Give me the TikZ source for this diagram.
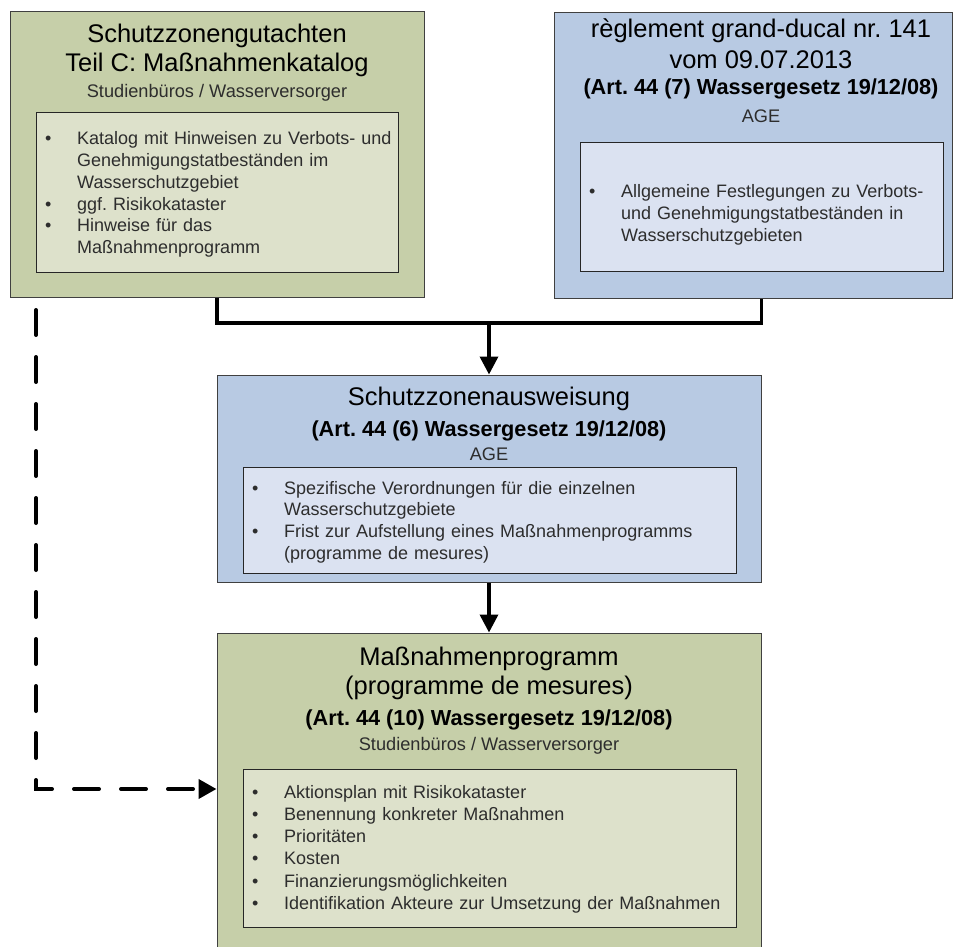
\documentclass[tikz,border=0pt]{standalone}
\usepackage{fontspec}
\setmainfont{Liberation Sans}
\usetikzlibrary{positioning, arrows.meta}
\definecolor{zonegruen}{RGB}{198,207,169}
\definecolor{zonegruenhell}{RGB}{221,225,203}
\definecolor{zoneblau}{RGB}{184,202,227}
\definecolor{zoneblauhell}{RGB}{219,226,241}
\definecolor{zonetext}{RGB}{45,45,45}

\newcommand{\erster}{\noindent\hangindent=32pt\hangafter=1\makebox[32pt][l]{\textbullet}}
\newcommand{\punkt}{\par\erster}
\frenchspacing

\begin{document}
\begin{tikzpicture}[x=1pt, y=-1pt,
    kasten/.style={draw=black!75, line width=1pt, inner sep=0pt},
    liste/.style={draw=black!85, line width=1pt, inner sep=0pt},
    titel/.style={anchor=base, font=\fontsize{25.5}{30}\selectfont},
    fett/.style={anchor=base, font=\fontsize{21.7}{26}\selectfont\bfseries},
    stelle/.style={anchor=base, text=zonetext, font=\fontsize{18.2}{22}\selectfont},
    punkte/.style={anchor=base west, inner sep=0pt, text=zonetext, text width=480pt,
        font=\fontsize{18}{21.7}\selectfont},
    verbinder/.style={line width=3.5pt, black},
    pfeil/.style={verbinder, -{Triangle[length=18pt, width=18pt]}},
    strichpfeil/.style={line width=4pt, line cap=round, dash pattern=on 25pt off 22pt,
        -{Triangle[length=18pt, width=19pt]}}
]
    \useasboundingbox (0,0) rectangle (954,947);
    \clip (0,0) rectangle (954,947);

    % Schutzzonengutachten
    \node[kasten, fill=zonegruen, minimum width=414pt, minimum height=285pt] (gutachten) at (217,154.5) {};
    \node[titel] (gutachtenA) at (217,42.5) {Schutzzonengutachten};
    \node[titel] (gutachtenB) at (217,72) {Teil C: Maßnahmenkatalog};
    \node[stelle] (gutachtenC) at (217,97.3) {Studienbüros / Wasserversorger};
    \node[liste, fill=zonegruenhell, minimum width=362pt, minimum height=159pt] (gutachtenL) at (217,192.5) {};
    \node[punkte] (gutachtenP) at (45,145) {\erster Katalog mit Hinweisen zu Verbots- und\newline
        Genehmigungstatbeständen im\newline Wasserschutzgebiet
        \punkt ggf. Risikokataster
        \punkt Hinweise für das\newline Maßnahmenprogramm\par};

    % reglement grand-ducal
    \node[kasten, fill=zoneblau, minimum width=398pt, minimum height=285pt] (reglement) at (753,155.5) {};
    \node[titel] (reglementA) at (761,37.5) {règlement grand-ducal nr. 141};
    \node[titel] (reglementB) at (761,68.8) {vom 09.07.2013};
    \node[fett] (reglementC) at (761,94.5) {(Art. 44 (7) Wassergesetz 19/12/08)};
    \node[stelle] (reglementD) at (761,122.3) {AGE};
    \node[liste, fill=zoneblauhell, minimum width=363pt, minimum height=128pt] (reglementL) at (761.5,207) {};
    \node[punkte, font=\fontsize{18}{22.2}\selectfont] (reglementP) at (589,197) {\erster Allgemeine Festlegungen zu Verbots-\newline
        und Genehmigungstatbeständen in\newline Wasserschutzgebieten\par};

    % Schutzzonenausweisung
    \node[kasten, fill=zoneblau, minimum width=544pt, minimum height=207pt] (ausweisung) at (489,478.5) {};
    \node[titel] (ausweisungA) at (489,405.5) {Schutzzonenausweisung};
    \node[fett] (ausweisungB) at (489,436) {(Art. 44 (6) Wassergesetz 19/12/08)};
    \node[stelle] (ausweisungC) at (489,460) {AGE};
    \node[liste, fill=zoneblauhell, minimum width=493pt, minimum height=106pt] (ausweisungL) at (489.5,520) {};
    \node[punkte] (ausweisungP) at (252,494) {\erster Spezifische Verordnungen für die einzelnen\newline
        Wasserschutzgebiete
        \punkt Frist zur Aufstellung eines Maßnahmenprogramms\newline (programme de mesures)\par};

    % Massnahmenprogramm
    \node[kasten, fill=zonegruen, minimum width=544pt, minimum height=327pt] (programm) at (489,796.5) {};
    \node[titel] (programmA) at (489,665) {Maßnahmenprogramm};
    \node[titel] (programmB) at (489,694.5) {(programme de mesures)};
    \node[fett] (programmC) at (489,725) {(Art. 44 (10) Wassergesetz 19/12/08)};
    \node[stelle] (programmD) at (489,750.7) {Studienbüros / Wasserversorger};
    \node[liste, fill=zonegruenhell, minimum width=493pt, minimum height=158pt] (programmL) at (489.5,848) {};
    \node[punkte, font=\fontsize{18}{22.3}\selectfont] (programmP) at (252,798) {\erster Aktionsplan mit Risikokataster
        \punkt Benennung konkreter Maßnahmen
        \punkt Prioritäten
        \punkt Kosten
        \punkt Finanzierungsmöglichkeiten
        \punkt Identifikation Akteure zur Umsetzung der Maßnahmen\par};

    % Verbindungen
    \coordinate (knoten) at (489,323);
    \draw[verbinder] (gutachten.south) |- (knoten) -| (reglement.south -| reglementL.south);
    \draw[pfeil] (knoten) -- (ausweisung.north);
    \draw[pfeil] (ausweisung.south) -- (programm.north);

    \coordinate (strichanfang) at (36,310);
    \coordinate (strichknick) at (36,789);
    \draw[strichpfeil] (strichanfang) -- (strichknick) -- (strichknick -| programm.west);
\end{tikzpicture}
\end{document}
